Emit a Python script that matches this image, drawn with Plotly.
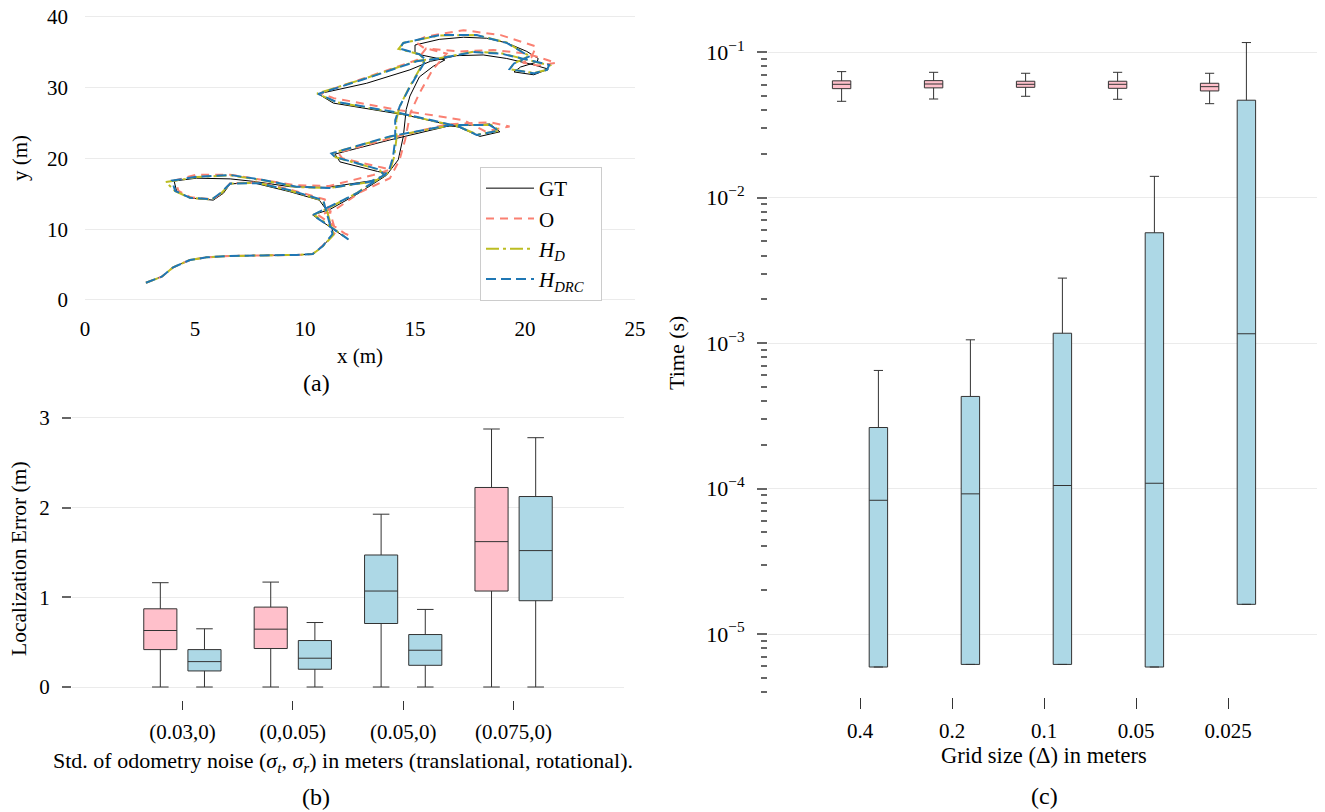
import plotly.graph_objects as go

# ---------------- data: panel (a) trajectories (x, y in meters) ----------------
gt_x = [2.77, 3.49, 4.01, 4.77, 5.53, 6.59, 8.10, 9.62, 10.35, 10.76, 11.30, 10.98, 10.65, 9.30, 7.65, 6.60, 6.29, 5.83, 4.77, 4.17, 4.05, 5.07, 6.60, 7.65, 9.32, 11.00, 13.26, 13.70, 13.30, 11.59, 11.36, 13.86, 16.44, 18.40, 18.86, 17.95, 17.00, 14.60, 11.29, 10.60, 12.80, 14.77, 15.70, 16.90, 18.10, 19.17, 20.40, 21.06, 20.40, 19.50, 19.80, 20.55, 20.60, 20.08, 19.17, 18.26, 17.20, 16.10, 15.00, 15.00, 15.50, 16.36, 15.83, 15.20, 14.77, 14.60, 14.47, 14.24, 13.70, 12.40, 11.14, 10.35, 11.44, 11.97]
gt_y = [2.44, 3.29, 4.62, 5.65, 6.03, 6.21, 6.30, 6.36, 6.50, 7.44, 9.30, 12.70, 14.10, 15.30, 16.55, 16.40, 15.07, 14.10, 14.40, 15.30, 16.80, 17.20, 17.10, 16.75, 16.00, 15.90, 16.95, 17.90, 18.15, 19.50, 20.60, 22.60, 24.50, 24.85, 23.75, 23.10, 24.40, 26.10, 27.80, 29.10, 30.60, 32.50, 33.70, 34.50, 34.60, 34.10, 33.20, 32.60, 31.80, 32.20, 32.90, 33.60, 34.10, 35.10, 36.30, 36.96, 37.10, 36.80, 36.00, 34.80, 34.45, 33.90, 33.00, 31.50, 28.80, 26.90, 23.10, 19.80, 17.60, 15.00, 12.80, 12.00, 9.65, 8.57]

o_x = [2.77, 3.49, 4.01, 4.77, 5.53, 6.59, 8.10, 9.62, 10.35, 10.85, 11.40, 11.10, 10.90, 9.32, 7.90, 6.60, 6.25, 5.80, 4.80, 4.25, 4.10, 5.08, 6.60, 8.10, 9.60, 11.10, 13.10, 13.86, 13.50, 11.70, 11.50, 14.20, 16.44, 18.40, 19.30, 18.20, 17.20, 14.30, 11.30, 10.70, 12.90, 15.10, 15.50, 17.05, 18.56, 20.08, 20.70, 21.40, 20.60, 19.90, 20.30, 20.50, 18.90, 17.20, 15.50, 15.00, 15.40, 16.44, 15.80, 15.20, 14.80, 14.55, 14.30, 13.86, 12.50, 11.30, 10.60, 11.80, 12.20]
o_y = [2.44, 3.29, 4.62, 5.65, 6.03, 6.21, 6.30, 6.36, 6.50, 7.80, 9.60, 12.80, 14.20, 15.60, 16.60, 16.50, 15.20, 14.20, 14.50, 15.40, 16.90, 17.70, 17.70, 17.00, 16.20, 16.10, 17.65, 18.40, 18.70, 20.00, 20.80, 23.10, 24.80, 25.10, 24.50, 23.80, 25.40, 26.80, 28.50, 29.20, 31.50, 33.90, 35.50, 35.10, 35.30, 34.80, 34.20, 33.50, 33.10, 33.50, 34.30, 35.80, 37.40, 38.10, 37.20, 36.50, 35.60, 34.80, 32.50, 29.20, 26.50, 22.60, 19.80, 17.20, 15.20, 12.60, 12.00, 9.40, 8.85]

hd_x = [2.77, 3.49, 4.01, 4.77, 5.53, 6.59, 8.10, 9.62, 10.35, 10.80, 11.30, 11.00, 10.80, 9.30, 7.85, 6.60, 6.22, 5.76, 4.75, 4.10, 3.68, 5.08, 6.60, 8.10, 9.60, 11.10, 12.95, 13.60, 13.40, 11.40, 11.20, 13.86, 16.60, 18.45, 18.85, 17.85, 17.00, 14.30, 11.40, 10.55, 12.80, 15.07, 16.10, 17.65, 18.90, 20.40, 21.15, 21.00, 20.40, 19.30, 19.50, 20.20, 19.17, 17.80, 16.10, 14.47, 14.25, 15.20, 15.45, 14.75, 14.30, 14.15, 14.15, 14.05, 13.85, 12.35, 11.05, 10.40, 11.40, 11.95]
hd_y = [2.44, 3.29, 4.62, 5.65, 6.03, 6.21, 6.30, 6.36, 6.50, 7.55, 9.20, 12.60, 14.05, 15.45, 16.55, 16.45, 15.15, 14.20, 14.45, 15.35, 16.65, 17.35, 17.60, 16.90, 15.95, 15.80, 16.65, 17.55, 18.35, 20.15, 20.70, 23.05, 24.65, 24.75, 23.90, 23.35, 24.45, 26.35, 27.95, 29.15, 31.35, 33.75, 34.15, 35.05, 34.85, 33.75, 33.10, 32.50, 32.05, 32.60, 33.40, 34.45, 36.35, 37.40, 37.35, 36.30, 35.45, 34.70, 33.90, 30.10, 27.30, 25.40, 22.60, 20.20, 18.10, 15.10, 12.95, 12.05, 9.85, 8.60]

hdrc_x = [2.77, 3.49, 4.01, 4.77, 5.53, 6.59, 8.10, 9.62, 10.35, 10.80, 11.25, 10.95, 10.83, 9.32, 7.90, 6.60, 6.20, 5.76, 4.77, 4.10, 3.95, 5.08, 6.60, 8.10, 9.60, 11.10, 12.95, 13.60, 13.40, 11.36, 11.20, 13.86, 16.60, 18.40, 18.80, 17.80, 17.00, 14.30, 11.40, 10.60, 12.80, 15.07, 16.10, 17.65, 18.90, 20.40, 21.10, 21.00, 20.40, 19.30, 19.50, 20.20, 19.17, 17.80, 16.10, 14.47, 14.30, 15.20, 15.50, 14.77, 14.30, 14.10, 14.10, 14.00, 13.80, 12.35, 11.00, 10.35, 11.40, 11.97]
hdrc_y = [2.44, 3.29, 4.62, 5.65, 6.03, 6.21, 6.30, 6.36, 6.50, 7.60, 9.30, 12.60, 14.10, 15.50, 16.50, 16.45, 15.20, 14.20, 14.45, 15.40, 16.85, 17.40, 17.66, 16.95, 16.00, 15.80, 16.70, 17.60, 18.40, 20.20, 20.70, 23.10, 24.70, 24.70, 23.90, 23.30, 24.50, 26.40, 28.00, 29.10, 31.30, 33.70, 34.10, 35.00, 34.80, 33.70, 33.20, 32.50, 32.00, 32.60, 33.40, 34.40, 36.30, 37.40, 37.40, 36.30, 35.50, 34.70, 33.90, 30.10, 27.30, 25.40, 22.60, 20.20, 18.10, 15.07, 12.95, 12.00, 9.80, 8.57]

# ---------------- data: panel (b) localization error boxes ----------------
noise_labels = ["(0.03,0)", "(0,0.05)", "(0.05,0)", "(0.075,0)"]
b_left_upper = [1.163, 1.170, 1.927, 2.877]
b_left_q3 = [0.872, 0.891, 1.472, 2.225]
b_left_med = [0.630, 0.645, 1.070, 1.621]
b_left_q1 = [0.417, 0.429, 0.708, 1.070]
b_left_lower = [0.0, 0.0, 0.0, 0.0]
b_left_colors = ["pink", "pink", "lightblue", "pink"]
b_right_upper = [0.649, 0.719, 0.865, 2.780]
b_right_q3 = [0.417, 0.518, 0.585, 2.124]
b_right_med = [0.283, 0.321, 0.410, 1.521]
b_right_q1 = [0.179, 0.198, 0.242, 0.962]
b_right_lower = [0.0, 0.0, 0.0, 0.0]

# ---------------- data: panel (c) time boxes ----------------
grid_labels = ["0.4", "0.2", "0.1", "0.05", "0.025"]
c_pink_upper = [0.0736, 0.0728, 0.0717, 0.0728, 0.0717]
c_pink_q3 = [0.0636, 0.0638, 0.0632, 0.0632, 0.0612]
c_pink_med = [0.0602, 0.0605, 0.0602, 0.0602, 0.0580]
c_pink_q1 = [0.0562, 0.0569, 0.0574, 0.0565, 0.0542]
c_pink_lower = [0.0460, 0.0477, 0.0498, 0.0475, 0.0443]
c_blue_upper = [6.49e-4, 1.054e-3, 2.8e-3, 1.402e-2, 0.1166]
c_blue_q3 = [2.63e-4, 4.30e-4, 1.17e-3, 5.74e-3, 0.0468]
c_blue_med = [8.31e-5, 9.2e-5, 1.05e-4, 1.088e-4, 1.16e-3]
c_blue_q1 = [5.93e-6, 6.18e-6, 6.18e-6, 5.93e-6, 1.6e-5]
c_blue_lower = [5.93e-6, 6.18e-6, 6.18e-6, 5.93e-6, 1.6e-5]

c_major = [1e-5, 1e-4, 1e-3, 1e-2, 1e-1]
c_major_text = ["10<sup>−5</sup>", "10<sup>−4</sup>", "10<sup>−3</sup>", "10<sup>−2</sup>", "10<sup>−1</sup>"]

# ---------------- styling ----------------
W, H = 1325, 812
OFF = 8  # page body margin of the exported html
FONT = "Liberation Serif, Times New Roman, serif"
FS = 21
GRID = "#ebebeb"
TICKC = "#666666"
COLORS = {"pink": "#FFC0CB", "lightblue": "#ADD8E6"}
PINK, BLUE = "#FFC0CB", "#ADD8E6"
EDGE = "#333333"


def fx(p):
    return (p - OFF) / W


def fy(p):
    return 1 - (p - OFF) / H


fig = go.Figure()

# panel (a)
fig.add_trace(go.Scatter(x=gt_x, y=gt_y, mode="lines", name="GT",
                         line=dict(color="black", width=1), xaxis="x", yaxis="y"))
fig.add_trace(go.Scatter(x=o_x, y=o_y, mode="lines", name="O",
                         line=dict(color="#FA8072", width=2, dash="8px,6px"), xaxis="x", yaxis="y"))
fig.add_trace(go.Scatter(x=hd_x, y=hd_y, mode="lines", name="<i>H</i><sub><i>D</i></sub>",
                         line=dict(color="#bcbd22", width=2, dash="13px,4px,3px,4px"), xaxis="x", yaxis="y"))
fig.add_trace(go.Scatter(x=hdrc_x, y=hdrc_y, mode="lines", name="<i>H</i><sub><i>DRC</i></sub>  ",
                         line=dict(color="#1f77b4", width=2, dash="10px,5px"), xaxis="x", yaxis="y"))

# panel (b)
for i in range(len(noise_labels)):
    pos = i + 1
    fig.add_trace(go.Box(x=[pos - 0.2], q1=[b_left_q1[i]], median=[b_left_med[i]], q3=[b_left_q3[i]],
                         lowerfence=[b_left_lower[i]], upperfence=[b_left_upper[i]],
                         width=0.3, whiskerwidth=0.5, fillcolor=COLORS[b_left_colors[i]],
                         line=dict(color=EDGE, width=1), boxpoints=False, showlegend=False,
                         xaxis="x2", yaxis="y2"))
    fig.add_trace(go.Box(x=[pos + 0.2], q1=[b_right_q1[i]], median=[b_right_med[i]], q3=[b_right_q3[i]],
                         lowerfence=[b_right_lower[i]], upperfence=[b_right_upper[i]],
                         width=0.3, whiskerwidth=0.5, fillcolor=BLUE,
                         line=dict(color=EDGE, width=1), boxpoints=False, showlegend=False,
                         xaxis="x2", yaxis="y2"))

# panel (c)
for i in range(len(grid_labels)):
    pos = i + 1
    fig.add_trace(go.Box(x=[pos - 0.2], q1=[c_pink_q1[i]], median=[c_pink_med[i]], q3=[c_pink_q3[i]],
                         lowerfence=[c_pink_lower[i]], upperfence=[c_pink_upper[i]],
                         width=0.2, whiskerwidth=0.5, fillcolor=PINK,
                         line=dict(color=EDGE, width=1), boxpoints=False, showlegend=False,
                         xaxis="x3", yaxis="y3"))
    fig.add_trace(go.Box(x=[pos + 0.2], q1=[c_blue_q1[i]], median=[c_blue_med[i]], q3=[c_blue_q3[i]],
                         lowerfence=[c_blue_lower[i]], upperfence=[c_blue_upper[i]],
                         width=0.2, whiskerwidth=0.5, fillcolor=BLUE,
                         line=dict(color=EDGE, width=1), boxpoints=False, showlegend=False,
                         xaxis="x3", yaxis="y3"))

minor_vals = [m * 10.0 ** e for e in range(-6, -1) for m in range(2, 10)]

tickfont = dict(family=FONT, size=FS, color="black")
supfont = dict(family=FONT, size=22, color="black")

# panel (a) y range padded a little so that the 40 tick/gridline is kept
A_PAD = 0.3
A_PXU = (300 - 16.7) / 40.0

fig.update_layout(
    width=W, height=H,
    margin=dict(l=0, r=0, t=0, b=0, pad=0, autoexpand=False),
    paper_bgcolor="white", plot_bgcolor="white",
    font=dict(family=FONT, size=FS, color="black"),
    boxmode="overlay",
    xaxis=dict(domain=[fx(85), fx(635)], range=[0, 25], tickvals=[0, 5, 10, 15, 20, 25],
               showgrid=False, zeroline=False, showline=False, ticks="", automargin=False,
               ticklabeloverflow="allow",
               ticklabelstandoff=int(round(10 + A_PAD * A_PXU)), tickfont=tickfont, anchor="y"),
    yaxis=dict(domain=[fy(300 + A_PAD * A_PXU), fy(16.7 - A_PAD * A_PXU)], range=[-A_PAD, 40 + A_PAD],
               tickvals=[0, 10, 20, 30, 40], ticklabeloverflow="allow",
               showgrid=True, gridcolor=GRID, gridwidth=1, zeroline=False, showline=False, ticks="",
               automargin=False, ticklabelstandoff=16, tickfont=tickfont, anchor="x"),
    xaxis2=dict(domain=[fx(72), fx(624)], range=[0, 5], tickvals=[1, 2, 3, 4], ticktext=noise_labels,
                showgrid=False, zeroline=False, showline=False, ticks="outside", ticklen=9,
                tickcolor="#333333", tickwidth=1, ticklabelstandoff=4, tickfont=tickfont,
                ticklabeloverflow="allow", automargin=False, anchor="y2"),
    yaxis2=dict(domain=[fy(700), fy(409)], range=[-0.145, 3.1], tickvals=[0, 1, 2, 3],
                showgrid=True, gridcolor=GRID, gridwidth=1, zeroline=False, showline=False,
                ticks="outside", ticklen=9, tickcolor=TICKC, tickwidth=1.5, ticklabelstandoff=8,
                ticklabeloverflow="allow", tickfont=tickfont, automargin=False, anchor="x2"),
    xaxis3=dict(domain=[fx(768), fx(1320)], range=[0, 6], tickvals=[1, 2, 3, 4, 5], ticktext=grid_labels,
                showgrid=False, zeroline=False, showline=False, ticks="outside", ticklen=11,
                tickcolor="#333333", tickwidth=1, ticklabelstandoff=4, tickfont=tickfont,
                ticklabeloverflow="allow", automargin=False, anchor="y3"),
    yaxis3=dict(domain=[fy(697), fy(30)], type="log", range=[-5.433, -0.847],
                tickvals=c_major, ticktext=c_major_text,
                showgrid=True, gridcolor=GRID, gridwidth=1, zeroline=False, showline=False,
                ticks="outside", ticklen=10, tickcolor=TICKC, tickwidth=1.5, ticklabelstandoff=8,
                minor=dict(tickvals=minor_vals, ticks="outside", ticklen=6, tickcolor=TICKC,
                           tickwidth=1.5, showgrid=False),
                ticklabeloverflow="allow", tickfont=supfont, automargin=False, anchor="x3"),
    legend=dict(x=fx(480), y=fy(167), xanchor="left", yanchor="top",
                bgcolor="white", bordercolor="#cccccc", borderwidth=1,
                font=dict(family=FONT, size=FS), itemwidth=48, tracegroupgap=0),
    showlegend=True,
)


def label(text, x, y, size=FS, angle=0):
    fig.add_annotation(text=text, x=fx(x), y=fy(y), xref="paper", yref="paper",
                       showarrow=False, textangle=angle, xanchor="center", yanchor="middle",
                       font=dict(family=FONT, size=size, color="black"))


label("y (m)", 20, 158, angle=-90)
label("x (m)", 360, 356)
label("(a)", 316, 383, size=24)
label("Localization Error (m)", 19, 559, size=21.5, angle=-90)
label("Std. of odometry noise (<i>σ</i><sub><i>t</i></sub>, <i>σ</i><sub><i>r</i></sub>) in meters (translational, rotational).", 343, 762, size=22)
label("(b)", 316, 797, size=24)
label("Time (s)", 677, 353, size=22, angle=-90)
label("Grid size (Δ) in meters", 1044, 755, size=22.5)
label("(c)", 1044, 796, size=24)

fig.write_html("out.html")
